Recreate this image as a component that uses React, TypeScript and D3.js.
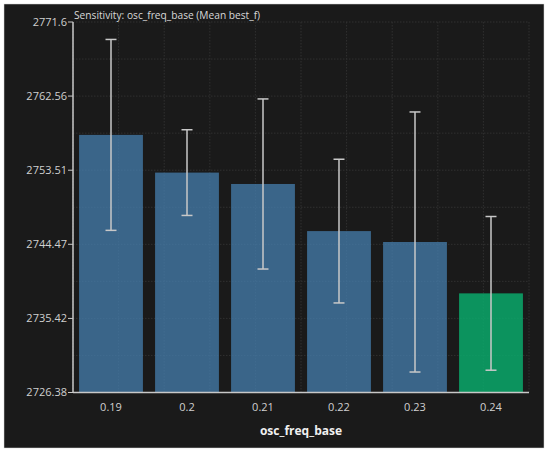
import React from 'react';
import * as d3 from 'd3';

// values
const categories = ['0.19', '0.2', '0.21', '0.22', '0.23', '0.24'];
const means = [2757.82, 2753.22, 2751.83, 2746.08, 2744.75, 2738.48];
const errors = [11.65, 5.23, 10.38, 8.77, 15.87, 9.38];
const yTickValues = [2726.38, 2735.42, 2744.47, 2753.51, 2762.56, 2771.6];
const yTickLabels = ['2726.38', '2735.42', '2744.47', '2753.51', '2762.56', '2771.6'];
const bestIndex = 5;

const W = 550;
const H = 454;
const margin = { top: 22, right: 21, bottom: 61.5, left: 73 };
const font = '"Open Sans", "Noto Sans", sans-serif';

const App: React.FC = () => {
  const innerW = W - margin.left - margin.right;
  const innerH = H - margin.top - margin.bottom;

  const x = d3.scaleBand<string>()
    .domain(categories)
    .range([0, innerW])
    .paddingInner(0.16)
    .paddingOuter(0.08);

  const y = d3.scaleLinear()
    .domain([yTickValues[0], yTickValues[yTickValues.length - 1]])
    .range([innerH, 0]);

  // dotted grid: ten divisions each way
  const gridX = d3.range(11).map(i => (innerW * i) / 10);
  const gridY = d3.range(11).map(i => (innerH * i) / 10);

  return (
    <div style={{ position: 'absolute', left: 0, top: 0 }}>
      <svg width={W} height={H} style={{ display: 'block', background: '#fff' }}>
        <rect x={4} y={4} width={540} height={444} fill="#1a1a1a" stroke="#d8d8d8" strokeWidth={0.5} />
        <g transform={`translate(${margin.left},${margin.top})`}>
          {gridX.map((gx, i) => (
            <line key={'gx' + i} x1={gx} x2={gx} y1={0} y2={innerH}
              stroke="#303030" strokeWidth={1} strokeDasharray="1.5,1.5" />
          ))}
          {gridY.map((gy, i) => (
            <line key={'gy' + i} x1={0} x2={innerW} y1={gy} y2={gy}
              stroke="#303030" strokeWidth={1} strokeDasharray="1.5,1.5" />
          ))}

          {categories.map((c, i) => (
            <rect key={'b' + c}
              x={x(c)}
              y={y(means[i])}
              width={x.bandwidth()}
              height={innerH - y(means[i])}
              fill={i === bestIndex ? '#0aa86a' : '#4682b4'}
              opacity={i === bestIndex ? 0.86 : 0.72} />
          ))}

          {categories.map((c, i) => {
            const cx = (x(c) || 0) + x.bandwidth() / 2;
            const top = y(means[i] + errors[i]);
            const bot = y(means[i] - errors[i]);
            return (
              <g key={'e' + c} stroke="#c8c8c8" strokeWidth={1.5}>
                <line x1={cx} x2={cx} y1={top} y2={bot} />
                <line x1={cx - 5.5} x2={cx + 5.5} y1={top} y2={top} />
                <line x1={cx - 5.5} x2={cx + 5.5} y1={bot} y2={bot} />
              </g>
            );
          })}

          {/* y axis */}
          <line x1={0} x2={0} y1={0} y2={innerH} stroke="#c8c8c8" strokeWidth={1.5} />
          {yTickValues.map((v, i) => (
            <g key={'yt' + i} transform={`translate(0,${y(v)})`}>
              <line x1={-5} x2={0} stroke="#c8c8c8" strokeWidth={1} />
              <text x={-6} dy="0.35em" textAnchor="end" fill="#d0d0d0"
                fontSize={11} fontFamily={font}>{yTickLabels[i]}</text>
            </g>
          ))}

          {/* x axis */}
          <line x1={0} x2={innerW} y1={innerH} y2={innerH} stroke="#c8c8c8" strokeWidth={1.5} />
          {categories.map(c => (
            <text key={'xt' + c}
              x={(x(c) || 0) + x.bandwidth() / 2}
              y={innerH + 15}
              dy="0.35em"
              textAnchor="middle"
              fill="#d0d0d0"
              fontSize={11}
              fontFamily={font}>{c}</text>
          ))}
          <text x={innerW / 2} y={innerH + 38} dy="0.35em" textAnchor="middle"
            fill="#f0f0f0" fontSize={12} fontWeight="bold" fontFamily={font}>osc_freq_base</text>
        </g>

        <text x={74} y={15} dy="0.35em" fill="#d8d8d8" fontSize={10.2} fontFamily={font}>
          Sensitivity: osc_freq_base (Mean best_f)
        </text>
      </svg>
    </div>
  );
};

export default App;
